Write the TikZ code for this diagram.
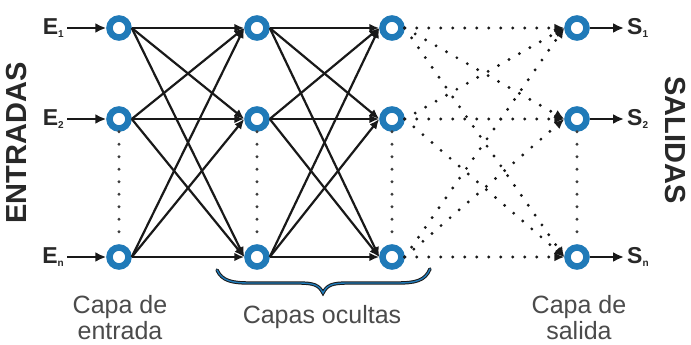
\documentclass[tikz,border=0pt]{standalone}
\usepackage{fontspec}
\setmainfont{Liberation Sans}
\usetikzlibrary{arrows.meta}
\definecolor{ringblue}{RGB}{32,122,184}
\definecolor{lbl}{RGB}{40,40,40}
\definecolor{captext}{RGB}{75,75,75}
\definecolor{linec}{RGB}{25,25,25}
\newcommand{\mysub}[1]{\raisebox{-0.3ex}{\fontsize{10}{10}\selectfont #1}}
\begin{document}
\begin{tikzpicture}[x=1pt,y=-1pt,
  neuron/.style={circle,draw=ringblue,line width=6.5pt,fill=white,minimum size=19pt,inner sep=0pt},
  conn/.style={draw=linec,line width=2.2pt,-{Latex[length=10pt,width=8.5pt]}},
  dconn/.style={draw=linec,line width=3.2pt,line cap=round,dash pattern=on 0pt off 12pt,-{Latex[length=10pt,width=9pt]}},
  vdotted/.style={draw=linec!85,line width=3.2pt,line cap=round,dash pattern=on 0pt off 12.5pt},
  ioarrow/.style={draw=linec,line width=2.2pt,-{Latex[length=11pt,width=10pt]}},
  io/.style={font=\fontsize{23}{25}\selectfont\bfseries,text=lbl,inner sep=3pt},
  capt/.style={font=\fontsize{25}{26}\selectfont,text=captext,align=center},
  side/.style={font=\fontsize{29}{31}\selectfont\bfseries,text=lbl}
]
\useasboundingbox[fill=white] (0,0) rectangle (691,345);

% neurons
\foreach \c/\x in {i/119,h/257,g/392,o/577}{
  \node[neuron] (\c1) at (\x,28) {};
  \node[neuron] (\c2) at (\x,119) {};
  \node[neuron] (\c3) at (\x,257) {};
}

% vertical dotted lines
\foreach \c in {i,h,g,o}{
  \draw[vdotted] (\c2.south) -- (\c3.north);
}

% full connections
\foreach \a in {1,2,3}{
  \foreach \b in {1,2,3}{
    \draw[conn] (i\a.east) -- (h\b.west);
    \draw[conn] (h\a.east) -- (g\b.west);
    \draw[dconn] (g\a.east) -- (o\b.west);
  }
}

% input labels
\node[io,anchor=east] (e1) at (67,28) {E\mysub{1}};
\node[io,anchor=east] (e2) at (67,119) {E\mysub{2}};
\node[io,anchor=east] (e3) at (67,257) {E\mysub{n}};
\foreach \k in {1,2,3}{ \draw[ioarrow] (e\k.east) -- (i\k.west); }

% output labels
\node[io,anchor=west] (s1) at (624,28) {S\mysub{1}};
\node[io,anchor=west] (s2) at (624,119) {S\mysub{2}};
\node[io,anchor=west] (s3) at (624,257) {S\mysub{n}};
\foreach \k in {1,2,3}{ \draw[ioarrow] (o\k.east) -- (s\k.west); }

% side titles
\node[side,rotate=90] (ent) at (17,143) {ENTRADAS};
\node[side,rotate=-90] (sal) at (675,140) {SALIDAS};

% brace
\draw[draw=linec,double=ringblue,double distance=1.4pt,line width=1pt,line cap=round]
  (217,270) .. controls (222,281) and (232,283) .. (250,283)
  -- (298,283) .. controls (314,283) and (319,285) .. (323,293)
  .. controls (327,285) and (332,283) .. (348,283)
  -- (397,283) .. controls (415,283) and (425,281) .. (430,269);

% captions
\node[capt] (c1) at (120,318) {Capa de\\entrada};
\node[capt] (c2) at (322,317) {Capas ocultas};
\node[capt] (c3) at (579,318) {Capa de\\salida};
\end{tikzpicture}
\end{document}
